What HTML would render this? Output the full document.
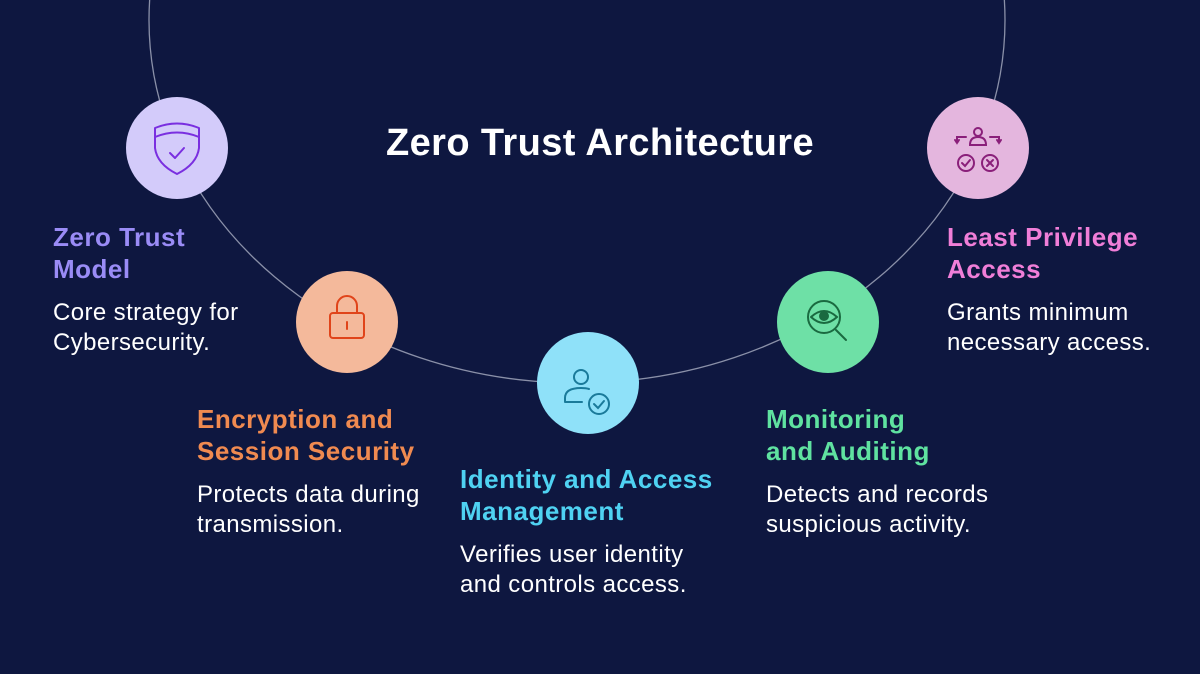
<!DOCTYPE html>
<html><head><meta charset="utf-8"><style>
body{margin:0;width:1200px;height:674px;background:#0e1740;overflow:hidden;font-family:"Liberation Sans",sans-serif;position:relative}
.t{position:absolute;line-height:32px}
h1{position:absolute;margin:0;left:0;width:1200px;text-align:center;top:122px;font-size:38px;color:#fff;font-weight:bold;letter-spacing:0.4px}
.h{font-size:26px;font-weight:bold;letter-spacing:0.5px}
.b{font-size:24px;color:#fff;line-height:30px;margin-top:13px;letter-spacing:0.4px}
</style></head><body>
<svg width="1200" height="674" style="position:absolute;left:0;top:0">
<ellipse cx="577" cy="20" rx="428" ry="363" fill="none" stroke="#8a90a8" stroke-width="1.3"/>
<circle cx="177" cy="148" r="51" fill="#d3cbfa"/>
<circle cx="347" cy="322" r="51" fill="#f4b99b"/>
<circle cx="588" cy="383" r="51" fill="#8fe1f9"/>
<circle cx="828" cy="322" r="51" fill="#6ee0a6"/>
<circle cx="978" cy="148" r="51" fill="#e4b6de"/>
<g fill="none" stroke="#7a2fe0" stroke-width="2" stroke-linejoin="round" stroke-linecap="round">
<path d="M155,128 Q177,119 199,128 L199,148 Q197,164 177,174 Q157,164 155,148 Z"/>
<path d="M155,137 Q177,128 199,137"/><path d="M170,153 L175,158 L184,148"/></g>
<g fill="none" stroke="#e0441a" stroke-width="2" stroke-linecap="round">
<rect x="330" y="313" width="34" height="25" rx="3"/><path d="M337,313 V306 a10,10 0 0 1 20,0 V313"/><path d="M347,322 V329"/></g>
<g fill="none" stroke="#1a7a9a" stroke-width="2" stroke-linecap="round">
<circle cx="581" cy="377" r="7"/><path d="M565,402 v-4 q0,-10 16,-10 q5,0 8,1 M565,402 h17"/>
<circle cx="599" cy="404" r="10"/><path d="M594,404 l4,4 l6,-7"/></g>
<g fill="none" stroke="#1a6a40" stroke-width="2" stroke-linecap="round">
<circle cx="824" cy="317" r="16"/><path d="M811,317 q13,-12 26,0 q-13,12 -26,0"/><circle cx="824" cy="316" r="4" fill="#1a6a40"/><path d="M836,330 l10,10"/></g>
<g fill="none" stroke="#8a1f7a" stroke-width="2" stroke-linecap="round">
<circle cx="978" cy="132" r="4"/><path d="M970,145 q0,-8 8,-8 q8,0 8,8 z"/><path d="M966,137 h-9 v6 M955,140 l2,3 l2,-3 M990,137 h9 v6 M997,140 l2,3 l2,-3"/>
<circle cx="966" cy="163" r="8"/><path d="M962,163 l3,3 l5,-6"/><circle cx="990" cy="163" r="8"/><path d="M987,160 l6,6 M993,160 l-6,6"/></g>
</svg>
<h1>Zero Trust Architecture</h1>
<div class="t" style="left:53px;top:221px"><div class="h" style="color:#9a8cf6">Zero Trust<br>Model</div><div class="b">Core strategy for<br>Cybersecurity.</div></div>
<div class="t" style="left:197px;top:403px"><div class="h" style="color:#f08a50">Encryption and<br>Session Security</div><div class="b">Protects data during<br>transmission.</div></div>
<div class="t" style="left:460px;top:463px"><div class="h" style="color:#4fd2f2">Identity and Access<br>Management</div><div class="b">Verifies user identity<br>and controls access.</div></div>
<div class="t" style="left:766px;top:403px"><div class="h" style="color:#5fe2a0">Monitoring<br>and Auditing</div><div class="b">Detects and records<br>suspicious activity.</div></div>
<div class="t" style="left:947px;top:221px"><div class="h" style="color:#f07ed8">Least Privilege<br>Access</div><div class="b">Grants minimum<br>necessary access.</div></div>
</body></html>
